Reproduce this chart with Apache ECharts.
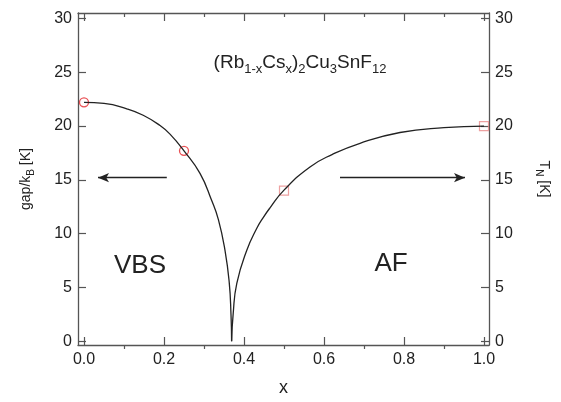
<!DOCTYPE html>
<html lang="en">
<head>
    <meta charset="UTF-8">
    <title>gap / TN vs x</title>
    <script src="https://cdn.jsdelivr.net/npm/echarts@6.0.0/dist/echarts.min.js"></script>
    <style>
        html, body { margin: 0; padding: 0; background: #fff; }
        #paint { width: 561px; height: 402px; }
    </style>
</head>
<body>
<div id="paint"></div>
<script type="text/javascript">
    // gap branch (VBS side)
    var gapX = [0, 0.05, 0.107, 0.148, 0.19, 0.215, 0.25, 0.29, 0.319, 0.336, 0.3525, 0.363, 0.3675, 0.369];
    var gapY = [22.2, 22.1, 21.6, 21.0, 20.05, 19.25, 17.7, 15.6, 13.1, 11.3, 8.46, 5.5, 2.5, 0];
    // TN branch (AF side)
    var tnX = [0.369, 0.373, 0.382, 0.407, 0.432, 0.448, 0.465, 0.5, 0.565, 0.62, 0.69, 0.79, 0.9, 1.0];
    var tnY = [0, 2.6, 5.39, 8.46, 10.5, 11.5, 12.4, 14.05, 16.2, 17.35, 18.4, 19.4, 19.85, 20.0];
    // measured points
    var circleX = [0, 0.25];
    var circleY = [22.2, 17.7];
    var squareX = [0.5, 1.0];
    var squareY = [14.0, 20.0];
    // arrows: [from x, to x, y]
    var arrowLeft = [0.207, 0.035, 15.2];
    var arrowRight = [0.64, 0.9525, 15.2];
    // ticks
    var xTicks = [0, 0.2, 0.4, 0.6, 0.8, 1.0];
    var xMinor = [0.1, 0.3, 0.5, 0.7, 0.9];
    var yTicks = [0, 5, 10, 15, 20, 25, 30];

    function pairs(xs, ys) {
        var out = [];
        for (var i = 0; i < xs.length; i++) out.push([xs[i], ys[i]]);
        return out;
    }

    var font = 'Liberation Sans, Arial, Helvetica, sans-serif';
    var axisColor = '#555';
    var subRich = {
        m: { fontSize: 14, lineHeight: 16, verticalAlign: 'bottom', padding: [0, 0, 3, 0], color: '#222', fontFamily: font },
        s: { fontSize: 10, lineHeight: 11, verticalAlign: 'bottom', color: '#222', fontFamily: font }
    };

    function mainX(pos, labels) {
        return {
            type: 'value', gridIndex: 0, position: pos,
            min: -0.015, max: 1.0125,
            axisLine: { onZero: false, lineStyle: { color: axisColor, width: 1.3 } },
            axisTick: { inside: true, length: 8, customValues: xTicks, lineStyle: { color: axisColor, width: 1.2 } },
            axisLabel: {
                show: labels, customValues: xTicks, margin: 7, fontSize: 16, color: '#222', fontFamily: font,
                formatter: function (v) { return v.toFixed(1); }
            },
            splitLine: { show: false }
        };
    }
    function minorX(pos) {
        return {
            type: 'value', gridIndex: 1, position: pos,
            min: -0.015, max: 1.0125,
            axisLine: { show: false, onZero: false },
            axisTick: { inside: true, length: 4, customValues: xMinor, lineStyle: { color: axisColor, width: 1.2 } },
            axisLabel: { show: false },
            splitLine: { show: false }
        };
    }
    function mainY(pos, name, rotate) {
        return {
            type: 'value', gridIndex: 0, position: pos,
            min: -0.34, max: 30.5,
            name: name, nameLocation: 'middle', nameRotate: rotate, nameGap: 42,
            nameTextStyle: { rich: subRich },
            axisLine: { onZero: false, lineStyle: { color: axisColor, width: 1.3 } },
            axisTick: { inside: true, length: 8, customValues: yTicks, lineStyle: { color: axisColor, width: 1.2 } },
            axisLabel: { customValues: yTicks, margin: 6, fontSize: 16, color: '#222', fontFamily: font },
            splitLine: { show: false }
        };
    }

    var myChart = echarts.init(document.getElementById('paint'));
    var xa = mainX('bottom', true);
    xa.name = 'x';
    xa.nameLocation = 'middle';
    xa.nameGap = 34;
    xa.nameTextStyle = { fontSize: 18, color: '#222', fontFamily: font };
    var yr = mainY('right', '{m|T}{s|N}{m| [K]}', -90);
    yr.nameGap = 45;

    var option = {
        animation: false,
        textStyle: { fontFamily: font },
        grid: [
            { left: 78, right: 72, top: 13, bottom: 53 },
            { left: 78, right: 72, top: 13, bottom: 53 }
        ],
        xAxis: [xa, mainX('top', false), minorX('bottom'), minorX('top')],
        yAxis: [
            mainY('left', '{m|gap/k}{s|B}{m| [K]}', 90),
            yr,
            { type: 'value', gridIndex: 1, show: false, min: -0.34, max: 30.5 }
        ],
        graphic: [
            {
                type: 'text', x: 300, y: 66,
                style: {
                    text: '{m|(Rb}{s|1-x}{m|Cs}{s|x}{m|)}{s|2}{m|Cu}{s|3}{m|SnF}{s|12}',
                    align: 'center', verticalAlign: 'middle',
                    rich: {
                        m: { fontSize: 19, lineHeight: 20, verticalAlign: 'bottom', padding: [0, 0, 4, 0], fill: '#222', fontFamily: font },
                        s: { fontSize: 13, lineHeight: 14, verticalAlign: 'bottom', fill: '#222', fontFamily: font }
                    }
                }
            },
            {
                type: 'text', x: 140, y: 266,
                style: { text: 'VBS', fontSize: 26, fill: '#222', fontFamily: font, align: 'center', verticalAlign: 'middle' }
            },
            {
                type: 'text', x: 391, y: 264,
                style: { text: 'AF', fontSize: 26, fill: '#222', fontFamily: font, align: 'center', verticalAlign: 'middle' }
            }
        ],
        series: [
            {
                type: 'line', xAxisIndex: 0, yAxisIndex: 0,
                data: pairs(gapX, gapY),
                showSymbol: false, smooth: true,
                lineStyle: { color: '#222', width: 1.3 },
                markLine: {
                    silent: true,
                    label: { show: false },
                    lineStyle: { color: '#222', width: 1.3, type: 'solid' },
                    data: [
                        [
                            { coord: [arrowLeft[0], arrowLeft[2]], symbol: 'none' },
                            { coord: [arrowLeft[1], arrowLeft[2]], symbol: 'arrow', symbolSize: [7, 11] }
                        ],
                        [
                            { coord: [arrowRight[0], arrowRight[2]], symbol: 'none' },
                            { coord: [arrowRight[1], arrowRight[2]], symbol: 'arrow', symbolSize: [7, 11] }
                        ]
                    ]
                }
            },
            {
                type: 'line', xAxisIndex: 0, yAxisIndex: 0,
                data: pairs(tnX, tnY),
                showSymbol: false, smooth: true,
                lineStyle: { color: '#222', width: 1.3 }
            },
            {
                type: 'scatter', xAxisIndex: 0, yAxisIndex: 0,
                data: pairs(circleX, circleY),
                symbol: 'circle', symbolSize: 9,
                itemStyle: { color: 'rgba(0,0,0,0)', borderColor: '#e3262b', borderWidth: 1.3 }
            },
            {
                type: 'scatter', xAxisIndex: 0, yAxisIndex: 0,
                data: pairs(squareX, squareY),
                symbol: 'rect', symbolSize: 9,
                itemStyle: { color: 'rgba(0,0,0,0)', borderColor: '#e98a8a', borderWidth: 1.2 }
            }
        ]
    };
    myChart.setOption(option);
</script>
</body>
</html>
